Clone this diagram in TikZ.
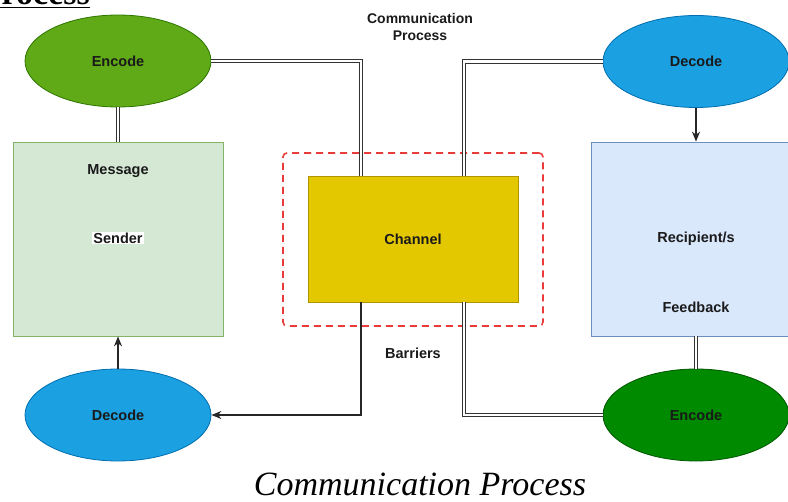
\documentclass[tikz,border=0pt]{standalone}
\usepackage{fontspec}
\setmainfont{Liberation Serif}
\setsansfont{Liberation Sans}
\usepackage{xcolor}
\usetikzlibrary{
  arrows.meta, shapes, shapes.geometric,
  positioning, calc
}
\definecolor{C_ENC}  {HTML}{60A917}
\definecolor{C_ENCd} {HTML}{2D7600}
\definecolor{C_ENC2} {HTML}{008A00}
\definecolor{C_ENC2d}{HTML}{005700}
\definecolor{C_DEC}  {HTML}{1BA1E2}
\definecolor{C_DECd} {HTML}{006EAF}
\definecolor{C_CHAN} {HTML}{E3C800}
\definecolor{C_CHANd}{HTML}{B09500}
\definecolor{C_SND}  {HTML}{D5E8D4}
\definecolor{C_SNDd} {HTML}{82B366}
\definecolor{C_RCV}  {HTML}{DAE8FC}
\definecolor{C_RCVd} {HTML}{6C8EBF}
\definecolor{C_BAR}  {HTML}{EA3B3B}
\definecolor{C_TXT}  {HTML}{1A1A1A}

\begin{document}
\begin{tikzpicture}[
  x=1pt, y=-1pt,
  every node/.style={font=\fontsize{14.5}{16}\selectfont\sffamily\bfseries, text=C_TXT},
  oval/.style={ellipse, draw, line width=0.8pt, minimum width=186pt, minimum height=92pt},
  encode/.style={oval, fill=C_ENC, draw=C_ENCd},
  encodedark/.style={oval, fill=C_ENC2, draw=C_ENC2d},
  decode/.style={oval, fill=C_DEC, draw=C_DECd},
  panel/.style={draw, line width=0.8pt, minimum width=210pt, minimum height=194pt},
  chanbox/.style={draw=C_CHANd, fill=C_CHAN, line width=0.8pt,
                  minimum width=210pt, minimum height=126pt},
  barrierbox/.style={draw=C_BAR, dashed, dash pattern=on 7pt off 5pt,
                     line width=1.6pt, rounded corners=4pt,
                     minimum width=260pt, minimum height=173pt},
  link/.style={draw=black!80, double=white, double distance=2.6pt, line width=1pt},
  arrow/.style={-{Stealth[length=10pt, width=8pt]}, line width=1.1pt, draw=black!85},
]
\useasboundingbox (0,0) rectangle (788,502);

%% title cut by the page
\node[anchor=base east, inner sep=0pt,
      font=\fontsize{34}{36}\selectfont\rmfamily\bfseries, text=black]
  (title) at (90,5) {\underline{Process}};

%% sender side
\node[encode] (enc1) at (118,61) {Encode};
\node[panel, fill=C_SND, draw=C_SNDd] (sender) at (118,239) {};
\node (msg) at (118,171) {Message};
\node[fill=white, inner sep=1pt] (snd) at (118,238) {Sender};
\node[decode] (dec1) at (118,415) {Decode};

%% channel
\node[barrierbox] (barrier) at (413,239.5) {};
\node[chanbox] (chan) at (413,239) {Channel};
\node[align=center, font=\fontsize{14}{17}\selectfont\sffamily\bfseries]
  (proc) at (420,27) {Communication\\Process};
\node (barr) at (413,353) {Barriers};

%% recipient side
\node[decode] (dec2) at (696,61.5) {Decode};
\node[panel, fill=C_RCV, draw=C_RCVd] (rcv) at (696,239) {};
\node (rcvt) at (696,239) {Recipient/s};
\node (fb) at (696,307) {Feedback};
\node[encodedark] (enc2) at (696,415) {Encode};

%% links into the channel
\draw[link] (enc1.east) -| ([xshift=-52pt]chan.north);
\draw[link] (dec2.west) -| ([xshift=51pt]chan.north);
\draw[link] (enc2.west) -| ([xshift=51pt]chan.south);
\draw[arrow] ([xshift=-52pt]chan.south) |- (dec1.east);

%% vertical links
\draw[link] (enc1.south) -- (sender.north);
\draw[arrow] (dec1.north) -- (sender.south);
\draw[arrow] (dec2.south) -- (rcv.north);
\draw[link] (rcv.south) -- (enc2.north);

%% caption
\node[anchor=base, inner sep=0pt,
      font=\fontsize{34}{36}\selectfont\rmfamily\itshape, text=black]
  (cap) at (420,496) {Communication Process};

\end{tikzpicture}
\end{document}
